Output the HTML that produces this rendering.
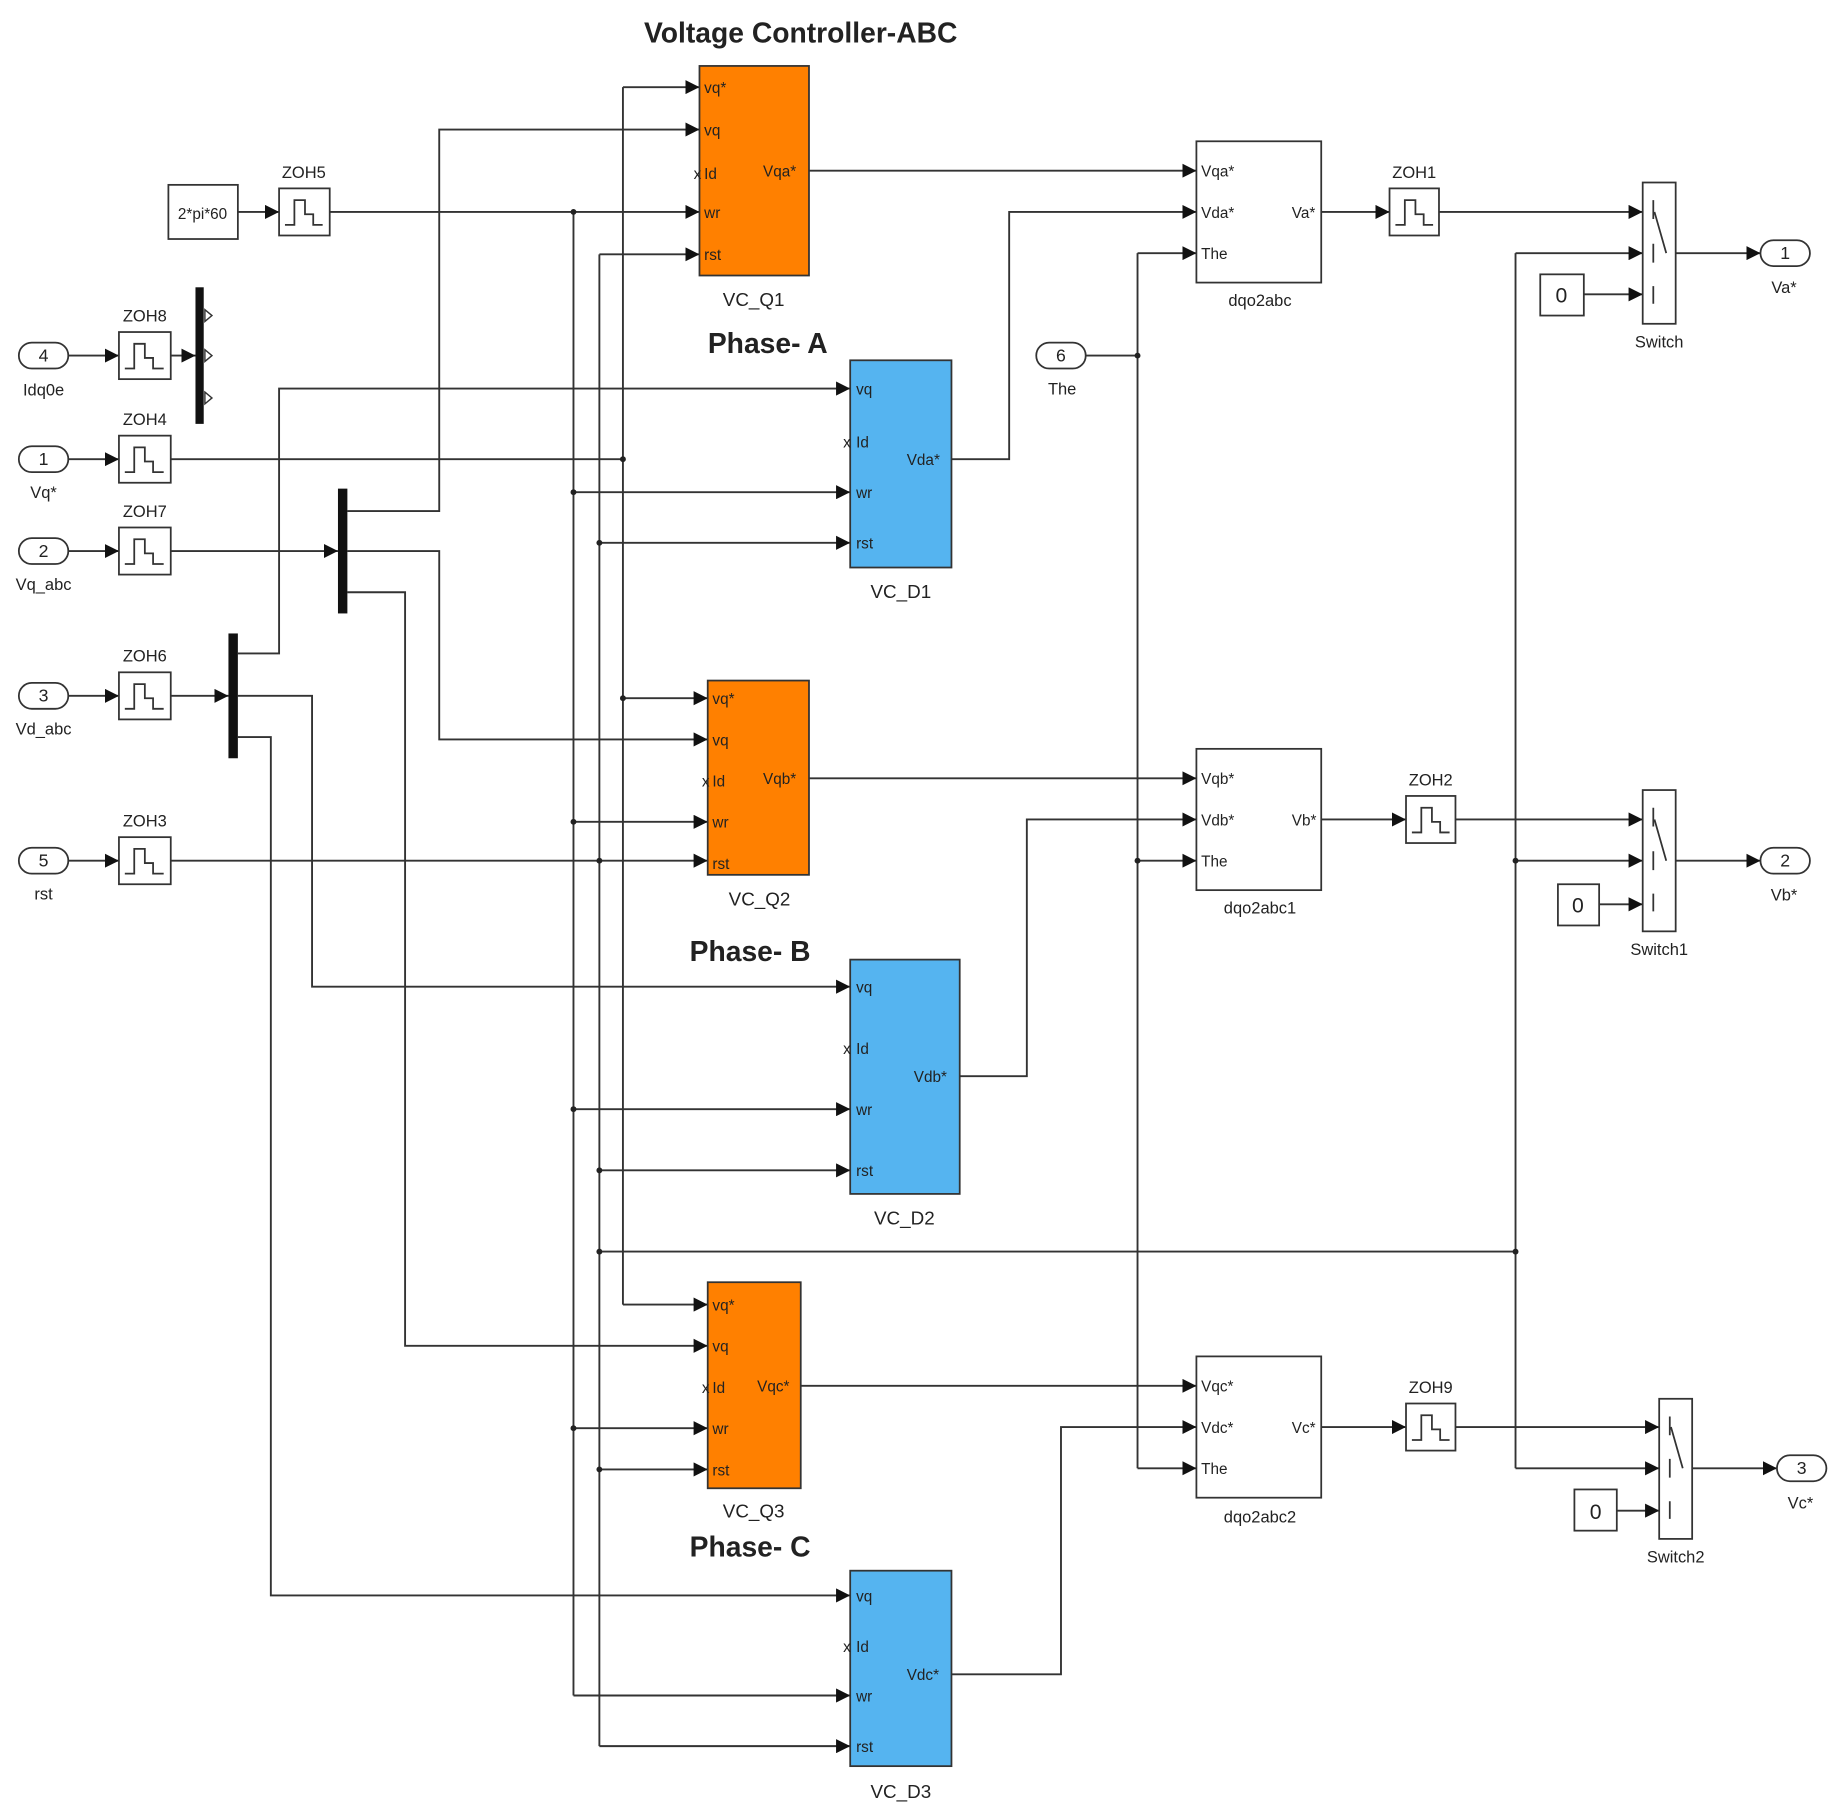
<!DOCTYPE html>
<html><head><meta charset="utf-8"><style>
html,body{margin:0;padding:0;background:#fff;}
svg{display:block;}
text{font-family:"Liberation Sans",sans-serif;fill:#222;}
.p{font-size:13px;}
.l{font-size:16px;text-anchor:middle;}
.h{font-size:24px;font-weight:bold;text-anchor:middle;}
</style></head><body>
<svg width="1837" height="1805" viewBox="0 0 1560 1533" preserveAspectRatio="none" xmlns="http://www.w3.org/2000/svg">
<defs>
<marker id="a" markerUnits="userSpaceOnUse" markerWidth="12" markerHeight="12" viewBox="0 0 10 10" refX="10" refY="5" orient="auto"><path d="M0,0 L10,5 L0,10 z" fill="#111"/></marker>
</defs>
<rect width="1560" height="1533" fill="#fff"/>
<g fill="none" stroke="#333" stroke-width="1.6">
<!-- left inports to ZOHs -->
<path d="M58,302H101" marker-end="url(#a)"/>
<path d="M58,390H101" marker-end="url(#a)"/>
<path d="M58,468H101" marker-end="url(#a)"/>
<path d="M58,591H101" marker-end="url(#a)"/>
<path d="M58,731H101" marker-end="url(#a)"/>
<path d="M145,302H166" marker-end="url(#a)"/>
<path d="M145,468H287" marker-end="url(#a)"/>
<path d="M145,591H194" marker-end="url(#a)"/>
<!-- const -> ZOH5 -->
<path d="M202,180H237" marker-end="url(#a)"/>
<!-- wr bus -->
<path d="M280,180H594" marker-end="url(#a)"/>
<path d="M487,180V1440"/>
<path d="M487,418H722" marker-end="url(#a)"/>
<path d="M487,698H601" marker-end="url(#a)"/>
<path d="M487,942H722" marker-end="url(#a)"/>
<path d="M487,1213H601" marker-end="url(#a)"/>
<path d="M487,1440H722" marker-end="url(#a)"/>
<!-- vq* bus -->
<path d="M145,390H529"/>
<path d="M529,74V1108"/>
<path d="M529,74H594" marker-end="url(#a)"/>
<path d="M529,593H601" marker-end="url(#a)"/>
<path d="M529,1108H601" marker-end="url(#a)"/>
<!-- rst bus -->
<path d="M145,731H601" marker-end="url(#a)"/>
<path d="M509,216V1483"/>
<path d="M509,216H594" marker-end="url(#a)"/>
<path d="M509,461H722" marker-end="url(#a)"/>
<path d="M509,994H722" marker-end="url(#a)"/>
<path d="M509,1248H601" marker-end="url(#a)"/>
<path d="M509,1483H722" marker-end="url(#a)"/>
<path d="M509,1063H1287"/>
<path d="M1287,215V1247"/>
<path d="M1287,215H1395" marker-end="url(#a)"/>
<path d="M1287,731H1395" marker-end="url(#a)"/>
<path d="M1287,1247H1409" marker-end="url(#a)"/>
<!-- Vq_abc demux outputs -->
<path d="M295,434H373V110H594" marker-end="url(#a)"/>
<path d="M295,468H373V628H601" marker-end="url(#a)"/>
<path d="M295,503H344V1143H601" marker-end="url(#a)"/>
<!-- Vd_abc demux outputs -->
<path d="M202,555H237V330H722" marker-end="url(#a)"/>
<path d="M202,591H265V838H722" marker-end="url(#a)"/>
<path d="M202,626H230V1355H722" marker-end="url(#a)"/>
<!-- controller outputs -->
<path d="M687,145H1016" marker-end="url(#a)"/>
<path d="M808,390H857V180H1016" marker-end="url(#a)"/>
<path d="M687,661H1016" marker-end="url(#a)"/>
<path d="M815,914H872V696H1016" marker-end="url(#a)"/>
<path d="M680,1177H1016" marker-end="url(#a)"/>
<path d="M808,1422H901V1212H1016" marker-end="url(#a)"/>
<!-- theta -->
<path d="M922,302H966"/>
<path d="M966,215V1247"/>
<path d="M966,215H1016" marker-end="url(#a)"/>
<path d="M966,731H1016" marker-end="url(#a)"/>
<path d="M966,1247H1016" marker-end="url(#a)"/>
<!-- dqo -> ZOH -> switch -->
<path d="M1122,180H1180" marker-end="url(#a)"/>
<path d="M1222,180H1395" marker-end="url(#a)"/>
<path d="M1122,696H1194" marker-end="url(#a)"/>
<path d="M1236,696H1395" marker-end="url(#a)"/>
<path d="M1122,1212H1194" marker-end="url(#a)"/>
<path d="M1236,1212H1409" marker-end="url(#a)"/>
<!-- consts -->
<path d="M1345,250H1395" marker-end="url(#a)"/>
<path d="M1358,768H1395" marker-end="url(#a)"/>
<path d="M1373,1283H1409" marker-end="url(#a)"/>
<!-- switch outputs -->
<path d="M1423,215H1495" marker-end="url(#a)"/>
<path d="M1423,731H1495" marker-end="url(#a)"/>
<path d="M1437,1247H1509" marker-end="url(#a)"/>
</g>
<!-- junction dots -->
<g fill="#222">
<circle cx="487" cy="180" r="2.5"/><circle cx="487" cy="418" r="2.5"/><circle cx="487" cy="698" r="2.5"/><circle cx="487" cy="942" r="2.5"/><circle cx="487" cy="1213" r="2.5"/>
<circle cx="529" cy="390" r="2.5"/><circle cx="529" cy="593" r="2.5"/>
<circle cx="509" cy="731" r="2.5"/><circle cx="509" cy="461" r="2.5"/><circle cx="509" cy="994" r="2.5"/><circle cx="509" cy="1063" r="2.5"/><circle cx="509" cy="1248" r="2.5"/>
<circle cx="966" cy="302" r="2.5"/><circle cx="966" cy="731" r="2.5"/><circle cx="1287" cy="731" r="2.5"/><circle cx="1287" cy="1063" r="2.5"/>
</g>
<!-- inports -->
<g fill="#fff" stroke="#333" stroke-width="1.5">
<rect x="16" y="291" width="42" height="22" rx="11"/>
<rect x="16" y="379" width="42" height="22" rx="11"/>
<rect x="16" y="457" width="42" height="22" rx="11"/>
<rect x="16" y="580" width="42" height="22" rx="11"/>
<rect x="16" y="720" width="42" height="22" rx="11"/>
<rect x="880" y="291" width="42" height="22" rx="11"/>
<rect x="1495" y="204" width="42" height="22" rx="11"/>
<rect x="1495" y="720" width="42" height="22" rx="11"/>
<rect x="1509" y="1236" width="42" height="22" rx="11"/>
<!-- const -->
<rect x="143" y="157" width="59" height="46"/>
<rect x="1308" y="233" width="37" height="35"/>
<rect x="1323" y="751" width="35" height="35"/>
<rect x="1337" y="1265" width="36" height="35"/>
<!-- dqo -->
<rect x="1016" y="120" width="106" height="120"/>
<rect x="1016" y="636" width="106" height="120"/>
<rect x="1016" y="1152" width="106" height="120"/>
<!-- switches -->
<rect x="1395" y="155" width="28" height="120"/>
<rect x="1395" y="671" width="28" height="120"/>
<rect x="1409" y="1188" width="28" height="119"/>
</g>
<g font-size="15" text-anchor="middle">
<text x="37" y="307">4</text><text x="37" y="395">1</text><text x="37" y="473">2</text><text x="37" y="596">3</text><text x="37" y="736">5</text>
<text x="901" y="307">6</text><text x="1516" y="220">1</text><text x="1516" y="736">2</text><text x="1530" y="1252">3</text>
<text x="1326" y="257" font-size="18">0</text><text x="1340" y="775" font-size="18">0</text><text x="1355" y="1290" font-size="18">0</text>
<text x="172" y="186" font-size="13">2*pi*60</text>
</g>
<!-- ZOH blocks -->
<g fill="#fff" stroke="#333" stroke-width="1.5">
<rect x="237" y="160" width="43" height="40"/>
<rect x="101" y="282" width="44" height="40"/>
<rect x="101" y="370" width="44" height="40"/>
<rect x="101" y="448" width="44" height="40"/>
<rect x="101" y="571" width="44" height="40"/>
<rect x="101" y="711" width="44" height="40"/>
<rect x="1180" y="160" width="42" height="40"/>
<rect x="1194" y="676" width="42" height="40"/>
<rect x="1194" y="1192" width="42" height="40"/>
</g>
<g fill="none" stroke="#333" stroke-width="1.5">
<path d="M242,191H250V170H259V182H266V191H274"/>
<path d="M106,313H114V292H123V304H130V313H139"/>
<path d="M106,401H114V380H123V392H130V401H139"/>
<path d="M106,479H114V458H123V470H130V479H139"/>
<path d="M106,602H114V581H123V593H130V602H139"/>
<path d="M106,742H114V721H123V733H130V742H139"/>
<path d="M1185,191H1193V170H1202V182H1209V191H1217"/>
<path d="M1199,707H1207V686H1216V698H1223V707H1231"/>
<path d="M1199,1223H1207V1202H1216V1214H1223V1223H1231"/>
<!-- switch symbols -->
<path d="M1404,170V186M1405,180L1415,215M1404,207V223M1404,243V258"/>
<path d="M1404,686V702M1405,696L1415,731M1404,723V739M1404,759V774"/>
<path d="M1418,1203V1219M1419,1212L1429,1247M1418,1239V1255M1418,1275V1290"/>
</g>
<!-- demux bars -->
<g fill="#111">
<rect x="166" y="244" width="7" height="116"/>
<rect x="287" y="415" width="8" height="106"/>
<rect x="194" y="538" width="8" height="106"/>
</g>
<g fill="#fff" stroke="#333" stroke-width="1.2">
<path d="M174,263L180,268L174,273z"/><path d="M174,297L180,302L174,307z"/><path d="M174,333L180,338L174,343z"/>
</g>
<!-- controllers -->
<g stroke="#333" stroke-width="1.5">
<rect x="594" y="56" width="93" height="178" fill="#ff8000"/>
<rect x="722" y="306" width="86" height="176" fill="#55b4f0"/>
<rect x="601" y="578" width="86" height="165" fill="#ff8000"/>
<rect x="722" y="815" width="93" height="199" fill="#55b4f0"/>
<rect x="601" y="1089" width="79" height="175" fill="#ff8000"/>
<rect x="722" y="1334" width="86" height="166" fill="#55b4f0"/>
</g>
<g class="p" font-size="13">
<text x="598" y="79">vq*</text><text x="598" y="115">vq</text><text x="598" y="152">Id</text><text x="598" y="185">wr</text><text x="598" y="221">rst</text><text x="648" y="150">Vqa*</text>
<text x="727" y="335">vq</text><text x="727" y="380">Id</text><text x="727" y="423">wr</text><text x="727" y="466">rst</text><text x="770" y="395">Vda*</text>
<text x="605" y="598">vq*</text><text x="605" y="633">vq</text><text x="605" y="668">Id</text><text x="605" y="703">wr</text><text x="605" y="738">rst</text><text x="648" y="666">Vqb*</text>
<text x="727" y="843">vq</text><text x="727" y="895">Id</text><text x="727" y="947">wr</text><text x="727" y="999">rst</text><text x="776" y="919">Vdb*</text>
<text x="605" y="1113">vq*</text><text x="605" y="1148">vq</text><text x="605" y="1183">Id</text><text x="605" y="1218">wr</text><text x="605" y="1253">rst</text><text x="643" y="1182">Vqc*</text>
<text x="727" y="1360">vq</text><text x="727" y="1403">Id</text><text x="727" y="1445">wr</text><text x="727" y="1488">rst</text><text x="770" y="1427">Vdc*</text>
<text x="1020" y="150">Vqa*</text><text x="1020" y="185">Vda*</text><text x="1020" y="220">The</text><text x="1097" y="185">Va*</text>
<text x="1020" y="666">Vqb*</text><text x="1020" y="701">Vdb*</text><text x="1020" y="736">The</text><text x="1097" y="701">Vb*</text>
<text x="1020" y="1182">Vqc*</text><text x="1020" y="1217">Vdc*</text><text x="1020" y="1252">The</text><text x="1097" y="1217">Vc*</text>
<text x="589" y="152">x</text><text x="716" y="380">x</text><text x="596" y="668">x</text><text x="716" y="895">x</text><text x="596" y="1183">x</text><text x="716" y="1403">x</text>
</g>
<g class="l">
<text x="640" y="260">VC_Q1</text><text x="765" y="508">VC_D1</text><text x="645" y="769">VC_Q2</text><text x="768" y="1040">VC_D2</text><text x="640" y="1289">VC_Q3</text><text x="765" y="1527">VC_D3</text>
</g>
<g text-anchor="middle" font-size="14">
<text x="258" y="151">ZOH5</text><text x="123" y="273">ZOH8</text><text x="123" y="361">ZOH4</text><text x="123" y="439">ZOH7</text><text x="123" y="562">ZOH6</text><text x="123" y="702">ZOH3</text>
<text x="1201" y="151">ZOH1</text><text x="1215" y="667">ZOH2</text><text x="1215" y="1183">ZOH9</text>
<text x="37" y="336">Idq0e</text><text x="37" y="423">Vq*</text><text x="37" y="501">Vq_abc</text><text x="37" y="624">Vd_abc</text><text x="37" y="764">rst</text>
<text x="902" y="335">The</text><text x="1515" y="249">Va*</text><text x="1515" y="765">Vb*</text><text x="1529" y="1281">Vc*</text>
<text x="1070" y="260">dqo2abc</text><text x="1070" y="776">dqo2abc1</text><text x="1070" y="1293">dqo2abc2</text>
<text x="1409" y="295">Switch</text><text x="1409" y="811">Switch1</text><text x="1423" y="1327">Switch2</text>
</g>
<text x="680" y="36" class="h" font-size="22">Voltage Controller-ABC</text>
<text x="652" y="300" class="h">Phase- A</text>
<text x="637" y="816" class="h">Phase- B</text>
<text x="637" y="1322" class="h">Phase- C</text>
</svg>
</body></html>
